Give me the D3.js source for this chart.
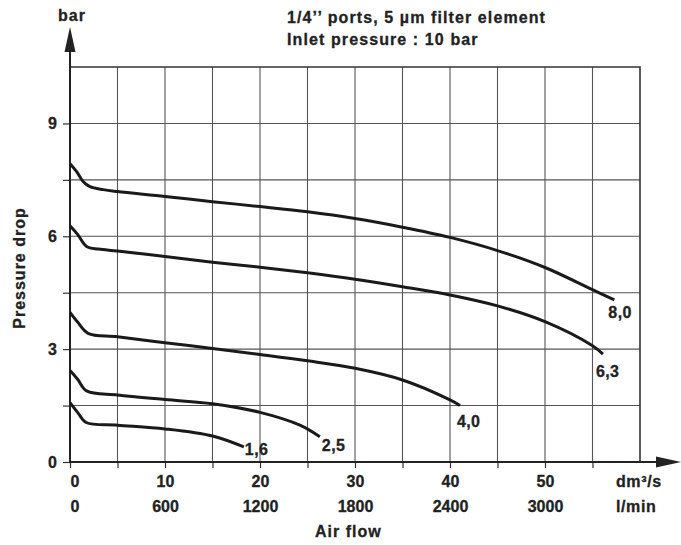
<!DOCTYPE html>
<html>
<head>
<meta charset="utf-8">
<script src="https://cdn.jsdelivr.net/npm/d3@7"></script>
<style>
  body { margin: 0; background: #fff; }
  svg text { font-family: "Liberation Sans", Arial, sans-serif; font-weight: bold; font-size: 16px; fill: #222; stroke: #222; stroke-width: 0.3px; }
</style>
</head>
<body>
<script>
// Air flow (dm3/s) and pressure drop (bar), one pair of arrays per setting
var flow80 = [0, 0.7, 1.4, 2.1, 3.5, 5, 10, 15, 20, 25, 30, 35, 40, 45, 50, 55, 57.3];
var drop80 = [7.93, 7.72, 7.45, 7.32, 7.24, 7.19, 7.06, 6.92, 6.79, 6.65, 6.47, 6.24, 5.97, 5.62, 5.17, 4.58, 4.31];

var flow63 = [0, 0.8, 1.75, 3, 5, 10, 15, 20, 25, 30, 35, 40, 45, 50, 55, 56.1];
var drop63 = [6.28, 6.05, 5.73, 5.66, 5.61, 5.46, 5.31, 5.18, 5.03, 4.86, 4.66, 4.44, 4.15, 3.73, 3.09, 2.87];

var flow40 = [0, 0.8, 1.9, 5, 10, 15, 20, 25, 30, 35, 40, 41.05];
var drop40 = [3.98, 3.72, 3.42, 3.33, 3.17, 3.02, 2.86, 2.69, 2.49, 2.18, 1.65, 1.5];

var flow25 = [0, 0.8, 1.75, 5, 10, 15, 20, 24.2, 26.3];
var drop25 = [2.43, 2.2, 1.89, 1.78, 1.66, 1.55, 1.32, 0.98, 0.67];

var flow16 = [0, 0.8, 1.7, 5, 10, 15, 18.3];
var drop16 = [1.58, 1.32, 1.05, 0.98, 0.88, 0.69, 0.4];

var curveNames = ["8,0", "6,3", "4,0", "2,5", "1,6"];

// tick values
var xTicks = [0, 5, 10, 15, 20, 25, 30, 35, 40, 45, 50, 55];
var xLabelTicks = [0, 10, 20, 30, 40, 50];
var lminLabels = ["0", "600", "1200", "1800", "2400", "3000"];
var yTicks = [0, 1.5, 3, 4.5, 6, 7.5, 9];
var yLabelTicks = [0, 3, 6, 9];

var width = 681, height = 545;

var xRange = d3.scaleLinear().domain([0, 60]).range([70, 640]);
var yRange = d3.scaleLinear().domain([0, 10.5]).range([462, 67]);

var svg = d3.select("body")
  .append("svg")
  .attr("width", width)
  .attr("height", height);

// grid
var grid = svg.append("g").attr("stroke", "#555").attr("stroke-width", 1.1);
grid.selectAll("line.v")
  .data(xTicks.filter(function (d) { return d > 0; }))
  .enter().append("line")
  .attr("x1", function (d) { return xRange(d); })
  .attr("x2", function (d) { return xRange(d); })
  .attr("y1", yRange(0))
  .attr("y2", yRange(10.5));
grid.selectAll("line.h")
  .data(yTicks.filter(function (d) { return d > 0; }))
  .enter().append("line")
  .attr("x1", xRange(0))
  .attr("x2", xRange(60))
  .attr("y1", function (d) { return yRange(d); })
  .attr("y2", function (d) { return yRange(d); });

// frame top and right
svg.append("path")
  .attr("d", "M" + xRange(0) + "," + yRange(10.5) + "H" + xRange(60) + "V" + yRange(0))
  .attr("fill", "none")
  .attr("stroke", "#333")
  .attr("stroke-width", 1.6);

// y axis
var yAxis = d3.axisLeft(yRange)
  .tickValues(yTicks)
  .tickSize(7)
  .tickPadding(6)
  .tickFormat(function (d) { return yLabelTicks.indexOf(d) >= 0 ? d : ""; });
var gy = svg.append("g")
  .attr("transform", "translate(" + xRange(0) + ",0)")
  .call(yAxis);
gy.select(".domain").remove();
gy.selectAll("line").attr("stroke", "#333").attr("stroke-width", 1.2);
gy.selectAll("text").attr("font-size", 16).attr("font-family", null).attr("fill", "#222");

// x axis (dm3/s)
var xAxis = d3.axisBottom(xRange)
  .tickValues(xTicks)
  .tickSize(6)
  .tickFormat(function (d) { return xLabelTicks.indexOf(d) >= 0 ? d : ""; });
var gx = svg.append("g")
  .attr("transform", "translate(0," + yRange(0) + ")")
  .call(xAxis);
gx.select(".domain").remove();
gx.selectAll("line").attr("stroke", "#333").attr("stroke-width", 1.2);
gx.selectAll("text")
  .attr("font-size", 16).attr("font-family", null).attr("fill", "#222")
  .attr("y", 25).attr("dy", null);
gx.selectAll(".tick").filter(function (d) { return d === 0; }).select("text")
  .attr("text-anchor", "start").attr("x", 0);

// second row, l/min
var xAxis2 = d3.axisBottom(xRange)
  .tickValues(xLabelTicks)
  .tickSize(0)
  .tickFormat(function (d, i) { return lminLabels[i]; });
var gx2 = svg.append("g")
  .attr("transform", "translate(0," + yRange(0) + ")")
  .call(xAxis2);
gx2.select(".domain").remove();
gx2.selectAll("text")
  .attr("font-size", 16).attr("font-family", null).attr("fill", "#222")
  .attr("y", 50).attr("dy", null);
gx2.selectAll(".tick").filter(function (d) { return d === 0; }).select("text")
  .attr("text-anchor", "start").attr("x", 0);

// axis lines with arrows
svg.append("line")
  .attr("x1", xRange(0)).attr("x2", xRange(0))
  .attr("y1", yRange(0) + 1).attr("y2", 50)
  .attr("stroke", "#222").attr("stroke-width", 2);
svg.append("path")
  .attr("d", "M" + xRange(0) + ",27L" + (xRange(0) - 5.5) + ",52L" + (xRange(0) + 5.5) + ",52Z")
  .attr("fill", "#222");
svg.append("line")
  .attr("x1", xRange(0) - 1).attr("x2", 660)
  .attr("y1", yRange(0)).attr("y2", yRange(0))
  .attr("stroke", "#222").attr("stroke-width", 2);
svg.append("path")
  .attr("d", "M681," + yRange(0) + "L656," + (yRange(0) - 5.5) + "L656," + (yRange(0) + 5.5) + "Z")
  .attr("fill", "#222");

// curves
var series = [
  { name: curveNames[0], x: flow80, y: drop80, dx: -6, dy: 18 },
  { name: curveNames[1], x: flow63, y: drop63, dx: -7, dy: 23 },
  { name: curveNames[2], x: flow40, y: drop40, dx: -3, dy: 21 },
  { name: curveNames[3], x: flow25, y: drop25, dx: 2, dy: 14 },
  { name: curveNames[4], x: flow16, y: drop16, dx: 1, dy: 8 }
];

var valueline = d3.line()
  .x(function (d) { return xRange(d[0]); })
  .y(function (d) { return yRange(d[1]); })
  .curve(d3.curveCatmullRom.alpha(0.5));

series.forEach(function (s) {
  var pts = s.x.map(function (v, i) { return [v, s.y[i]]; });
  svg.append("path")
    .datum(pts)
    .attr("d", valueline)
    .attr("fill", "none")
    .attr("stroke", "#1a1a1a")
    .attr("stroke-width", 3);
  var last = pts[pts.length - 1];
  svg.append("text")
    .attr("x", xRange(last[0]) + s.dx)
    .attr("y", yRange(last[1]) + s.dy)
    .attr("letter-spacing", 0.4)
    .text(s.name);
});

// texts
svg.append("text").attr("x", 58).attr("y", 21).attr("letter-spacing", 1).text("bar");
svg.append("text").attr("x", 287).attr("y", 23).attr("letter-spacing", 1.1).text("1/4\u2019\u2019 ports, 5 \u00b5m filter element");
svg.append("text").attr("x", 287).attr("y", 45).attr("letter-spacing", 1.1).text("Inlet pressure : 10 bar");
svg.append("text")
  .attr("transform", "translate(25,268) rotate(-90)")
  .attr("text-anchor", "middle")
  .attr("letter-spacing", 1)
  .text("Pressure drop");
svg.append("text").attr("x", 616).attr("y", 487).attr("letter-spacing", 0.6).text("dm\u00b3/s");
svg.append("text").attr("x", 616).attr("y", 512).attr("letter-spacing", 0.6).text("l/min");
svg.append("text").attr("x", 315).attr("y", 537).attr("letter-spacing", 1).text("Air flow");
</script>
</body>
</html>
